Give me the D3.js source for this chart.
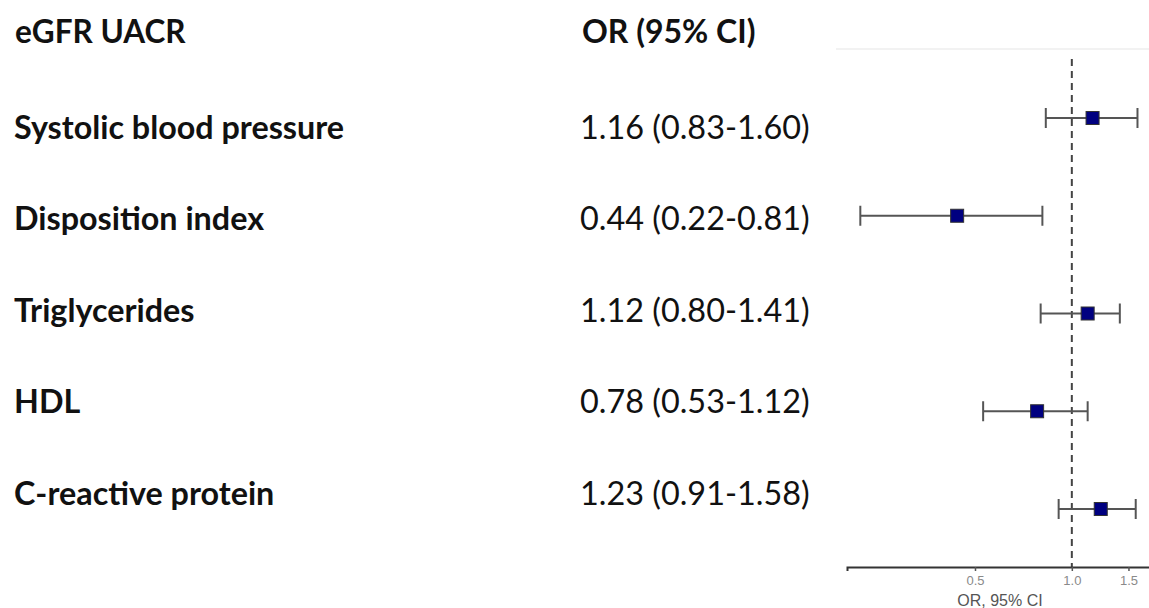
<!DOCTYPE html>
<html>
<head>
<meta charset="utf-8">
<script src="https://cdn.jsdelivr.net/npm/d3@7"></script>
<style>
  html, body { margin: 0; padding: 0; background: #fff; }
  svg { display: block; }
</style>
</head>
<body>
<svg id="chart" width="1149" height="608"></svg>
<script>
// Odds ratios with 95% confidence intervals for eGFR / UACR
const variables = ["Systolic blood pressure", "Disposition index", "Triglycerides", "HDL", "C-reactive protein"];
const oddsRatio = [1.16, 0.44, 1.12, 0.78, 1.23];
const ciLower   = [0.83, 0.22, 0.80, 0.53, 0.91];
const ciUpper   = [1.60, 0.81, 1.41, 1.12, 1.58];
const axisTicks = [0.5, 1.0, 1.5];
const titleLeft = "eGFR UACR";
const titleMid  = "OR (95% CI)";
const axisTitle = "OR, 95% CI";

const rows = variables.map((v, i) => ({
  name: v, or: oddsRatio[i], lo: ciLower[i], hi: ciUpper[i],
  label: `${oddsRatio[i].toFixed(2)} (${ciLower[i].toFixed(2)}-${ciUpper[i].toFixed(2)})`
}));

const svg = d3.select("#chart");
const textFont = "Lato, 'Open Sans', sans-serif";
const smallFont = "Arial, 'Liberation Sans', sans-serif";

// scales
const x = d3.scaleLog().domain([0.2, 1.75]).range([847, 1150]);
const yPlot = d3.scalePoint().domain(variables).range([118, 509]);
const yText = d3.scalePoint().domain(variables).range([127, 493]);
const axisY = 567;

// faint panel top line
svg.append("line")
  .attr("x1", 836).attr("x2", 1149).attr("y1", 49).attr("y2", 49)
  .attr("stroke", "#eeeeee").attr("stroke-width", 1.5);

// reference line at OR = 1
svg.append("line")
  .attr("x1", x(1)).attr("x2", x(1))
  .attr("y1", 59).attr("y2", axisY)
  .attr("stroke", "#444").attr("stroke-width", 2)
  .attr("stroke-dasharray", "7,5");

// x axis
const axis = d3.axisBottom(x).tickValues(axisTicks).tickFormat(d3.format(".1f")).tickSizeOuter(0).tickSize(4);
const gAxis = svg.append("g").attr("transform", `translate(0,${axisY})`).call(axis);
gAxis.select(".domain").attr("stroke", "#333").attr("stroke-width", 2);
gAxis.selectAll(".tick line").attr("stroke", "#555").attr("stroke-width", 1.5);
gAxis.selectAll(".tick text")
  .attr("fill", "#8a8a8a").attr("font-family", smallFont)
  .attr("font-size", 13).attr("dy", "0.85em");

svg.append("text")
  .attr("x", 1000).attr("y", 606)
  .attr("text-anchor", "middle")
  .attr("font-family", smallFont)
  .attr("font-size", 16).attr("fill", "#555")
  .text(axisTitle);

// confidence intervals
const ci = svg.append("g").selectAll("g").data(rows).join("g");
ci.append("line")
  .attr("x1", d => x(d.lo)).attr("x2", d => x(d.hi))
  .attr("y1", d => yPlot(d.name)).attr("y2", d => yPlot(d.name))
  .attr("stroke", "#555").attr("stroke-width", 2);
ci.append("line")
  .attr("x1", d => x(d.lo)).attr("x2", d => x(d.lo))
  .attr("y1", d => yPlot(d.name) - 10).attr("y2", d => yPlot(d.name) + 10)
  .attr("stroke", "#555").attr("stroke-width", 2);
ci.append("line")
  .attr("x1", d => x(d.hi)).attr("x2", d => x(d.hi))
  .attr("y1", d => yPlot(d.name) - 10).attr("y2", d => yPlot(d.name) + 10)
  .attr("stroke", "#555").attr("stroke-width", 2);

// point estimates
const sq = 13;
ci.append("rect")
  .attr("x", d => x(d.or) - sq / 2).attr("y", d => yPlot(d.name) - sq / 2)
  .attr("width", sq).attr("height", sq)
  .attr("fill", "#000080").attr("stroke", "#333").attr("stroke-width", 1);

// headers
svg.append("text")
  .attr("x", 15).attr("y", 43)
  .attr("font-family", textFont).attr("font-weight", 700).attr("font-size", 31.5)
  .attr("fill", "#111").text(titleLeft);
svg.append("text")
  .attr("x", 582).attr("y", 43)
  .attr("font-family", textFont).attr("font-weight", 700).attr("font-size", 32)
  .attr("fill", "#111").text(titleMid);

// row labels
svg.append("g").selectAll("text").data(rows).join("text")
  .attr("x", 14).attr("y", d => yText(d.name))
  .attr("dy", "0.36em")
  .attr("font-family", textFont).attr("font-weight", 700).attr("font-size", 32.3)
  .attr("fill", "#111").text(d => d.name);

// OR (95% CI) values
svg.append("g").selectAll("text").data(rows).join("text")
  .attr("x", 580).attr("y", d => yText(d.name))
  .attr("dy", "0.36em")
  .attr("font-family", textFont).attr("font-weight", 400).attr("font-size", 32.4)
  .attr("fill", "#111").text(d => d.label);
</script>
</body>
</html>
